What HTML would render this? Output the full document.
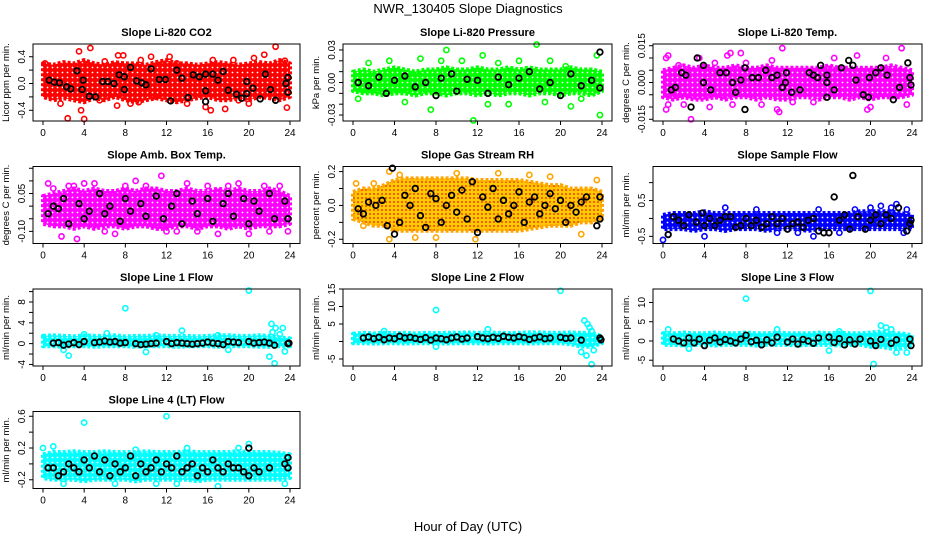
<!DOCTYPE html>
<html><head><meta charset="utf-8"><style>
body{margin:0;background:#fff;}
svg{display:block;font-family:"Liberation Sans",sans-serif;}
</style></head><body>
<svg id="chart" width="936" height="540" viewBox="0 0 936 540">
<defs>
<pattern id="rhpat" width="4" height="4" patternUnits="userSpaceOnUse"><rect width="4" height="4" fill="#ffc800"/><circle cx="2" cy="2" r="0.9" fill="#e02000"/></pattern>
</defs>
<text x="468" y="13" text-anchor="middle" font-size="13">NWR_130405  Slope Diagnostics</text>
<text x="468" y="531" text-anchor="middle" font-size="13">Hour of Day (UTC)</text>
</svg>
<script>
const xTicks=[0,4,8,12,16,20,24];
const hoursBand=[0,1,2,3,4,5,6,7,8,9,10,11,12,13,14,15,16,17,18,19,20,21,22,23,24];
// CO2
const co2Lo=[-0.2,-0.25,-0.22,-0.25,-0.28,-0.22,-0.25,-0.2,-0.25,-0.28,-0.25,-0.22,-0.25,-0.28,-0.25,-0.22,-0.2,-0.25,-0.25,-0.22,-0.25,-0.2,-0.22,-0.25,-0.2];
const co2Hi=[0.3,0.28,0.32,0.3,0.35,0.3,0.28,0.32,0.3,0.3,0.28,0.32,0.35,0.3,0.3,0.28,0.3,0.32,0.3,0.28,0.3,0.32,0.3,0.35,0.3];
const co2Pts=[[2.4,-0.52],[4,-0.53],[3.7,-0.4],[1.7,-0.3],[3.5,0.48],[4.6,0.53],[7.3,0.42],[7.8,0.42],[9.5,0.35],[12.3,0.4],[16.5,0.35],[18.5,0.35],[21.5,0.43],[22.6,0.55],[23.7,-0.36],[16.3,-0.4],[17.7,-0.38],[20,-0.3],[7.2,-0.33],[14,-0.3],[0.2,0.3],[10.5,0.4],[13,0.3],[6,0.33],[19,-0.25],[11,-0.2],[15.8,-0.35],[5.5,-0.25],[8.5,-0.3],[9.3,-0.28],[20.5,0.38],[23.5,0.34]];
const co2Blk=[[0.6,0.05],[1.1,0.02],[1.6,0.01],[2.3,-0.05],[2.7,-0.08],[3.3,0.19],[3.9,0.05],[3.8,-0.09],[4.5,-0.19],[5.1,-0.2],[5.8,0.03],[6.3,0.03],[6.9,0.0],[7.4,0.13],[7.9,0.1],[7.9,-0.09],[8.5,0.24],[9.1,0.04],[9.6,0.01],[10,-0.02],[10.5,0.22],[11.3,0.06],[11.9,0.06],[12.4,-0.26],[13,0.2],[13.5,0.08],[14.1,-0.21],[14.6,0.13],[15.2,0.1],[15.8,0.14],[15.8,-0.11],[15.8,-0.27],[16.5,0.14],[17,0.05],[17.5,0.18],[18,-0.1],[18.8,-0.16],[19.3,-0.22],[19.8,0.03],[19.8,-0.15],[20.4,-0.07],[21.1,-0.23],[21.6,0.14],[22.1,-0.09],[22.6,-0.25],[23.6,0.0],[23.8,0.09],[23.8,-0.13]];
// Pressure
const prLo=[-0.008,-0.01,-0.01,-0.012,-0.01,-0.01,-0.012,-0.01,-0.01,-0.012,-0.01,-0.01,-0.012,-0.01,-0.012,-0.01,-0.01,-0.012,-0.01,-0.01,-0.012,-0.01,-0.01,-0.012,-0.008];
const prHi=[0.01,0.012,0.01,0.012,0.014,0.012,0.01,0.012,0.012,0.014,0.012,0.012,0.014,0.012,0.012,0.014,0.012,0.014,0.012,0.012,0.012,0.014,0.012,0.012,0.01];
const prPts=[[17.7,0.035],[11.6,-0.035],[9,0.03],[12.5,0.025],[3.5,0.02],[19,0.02],[23.5,0.025],[7.5,-0.025],[15,-0.02],[21,-0.022],[1.5,0.018],[5,-0.018],[13,-0.02],[23.8,-0.03],[0.5,-0.015],[10.5,0.02],[16,0.02],[20.5,0.015],[22,-0.015],[6.5,0.022],[8.5,0.02],[14,0.018],[18.5,-0.018]];
const prBlk=[[0.5,0.0],[1.5,-0.003],[2.5,0.005],[3.2,-0.01],[4,0.002],[5,0.006],[6,-0.004],[7,0.0],[8,-0.012],[8.5,0.004],[9.5,0.008],[10,-0.008],[11,0.003],[12,0.002],[13,-0.01],[14,0.005],[15,-0.002],[16,0.004],[17,0.01],[18,-0.006],[19,0.0],[20,-0.012],[21,0.008],[22,-0.003],[23,0.002],[23.8,0.028],[23.8,-0.005]];
// Li-820 Temp
const tLo=[-0.006,-0.007,-0.006,-0.007,-0.007,-0.006,-0.007,-0.006,-0.006,-0.007,-0.006,-0.007,-0.007,-0.006,-0.006,-0.007,-0.006,-0.006,-0.007,-0.006,-0.007,-0.006,-0.006,-0.006,-0.005];
const tHi=[0.005,0.006,0.007,0.006,0.007,0.006,0.006,0.007,0.006,0.006,0.007,0.006,0.006,0.006,0.006,0.006,0.007,0.006,0.006,0.006,0.006,0.006,0.007,0.006,0.005];
const tPts=[[0.3,0.010],[0.5,0.011],[0.3,-0.011],[0.5,-0.009],[2.7,-0.015],[3.5,0.010],[5,0.008],[6.2,0.011],[6.5,0.012],[7.5,0.012],[11.5,0.014],[11.2,-0.012],[9.5,-0.009],[1.5,0.007],[2,-0.009],[12.5,-0.008],[16.5,0.010],[18.7,0.011],[21.5,0.010],[23,0.014],[19.7,-0.011],[20,-0.010],[23.5,-0.009],[14.5,-0.008],[10.5,0.009],[8,0.008],[4.5,-0.010],[6.7,-0.009],[11,-0.011]];
const tBlk=[[0.8,-0.003],[1.2,-0.002],[1.8,0.004],[2.2,0.003],[2.7,-0.010],[3.3,0.010],[3.9,0.007],[3.9,0.000],[4.6,-0.003],[5.5,0.004],[6.1,0.004],[6.7,0.000],[7,-0.004],[7.5,0.001],[7.9,0.006],[7.9,-0.011],[8.6,0.002],[9.2,0.002],[9.9,0.005],[10.5,0.002],[11,0.003],[11.5,-0.002],[11.8,0.000],[11.9,0.004],[12.4,-0.004],[13.2,-0.003],[14.1,0.004],[14.5,0.003],[14.9,0.002],[15.2,0.007],[15.8,0.003],[15.8,0.000],[15.8,-0.006],[16.5,-0.003],[17.2,0.006],[17.9,0.009],[18.3,0.007],[18.6,0.001],[19.3,-0.005],[19.8,-0.006],[19.9,0.002],[20.5,0.004],[21,0.006],[21.6,0.003],[22.2,-0.007],[22.8,-0.002],[23.6,0.008],[23.8,0.002],[23.9,-0.001]];
// Amb box temp
const abLo=[-0.07,-0.08,-0.08,-0.09,-0.08,-0.09,-0.08,-0.08,-0.09,-0.08,-0.08,-0.09,-0.09,-0.08,-0.08,-0.09,-0.08,-0.08,-0.09,-0.08,-0.09,-0.08,-0.08,-0.08,-0.07];
const abHi=[0.04,0.05,0.06,0.07,0.06,0.07,0.06,0.06,0.07,0.06,0.07,0.07,0.06,0.06,0.07,0.06,0.06,0.07,0.06,0.07,0.06,0.06,0.07,0.06,0.04];
const abPts=[[0.5,0.09],[1.8,-0.12],[3,0.08],[5,0.09],[6,-0.1],[9,0.1],[10,0.08],[11.5,0.12],[12,-0.1],[14,0.09],[16,0.08],[17,-0.11],[18,0.08],[19,0.09],[21.5,0.08],[23,0.08],[22,-0.1],[13,-0.1],[7,-0.11],[4,0.09],[20,-0.11],[8,0.08],[15,-0.1],[2.5,0.08],[23.8,-0.1],[1,0.07],[3.3,-0.13]];
const abBlk=[[0.5,-0.03],[1,0.0],[1.5,-0.01],[2,0.03],[2.5,-0.07],[3.5,0.01],[4,-0.05],[4.5,-0.02],[5.5,0.05],[6,-0.03],[6.5,0.0],[7.5,-0.06],[8,0.03],[8.5,-0.02],[9.5,0.01],[10,-0.04],[11,0.04],[11.7,-0.05],[12.5,0.0],[13,0.05],[13.5,-0.07],[14.5,0.02],[15,-0.03],[16,0.03],[16.5,-0.06],[17.5,0.01],[18,0.05],[18.5,-0.04],[19.5,0.03],[20,-0.07],[20.5,0.02],[21,-0.02],[22,0.05],[22.5,-0.05],[23.5,0.02],[23.8,-0.05]];
// Gas stream RH
const rhLo=[-0.08,-0.1,-0.12,-0.12,-0.15,-0.15,-0.15,-0.15,-0.15,-0.15,-0.15,-0.15,-0.15,-0.15,-0.15,-0.15,-0.15,-0.14,-0.13,-0.12,-0.12,-0.12,-0.1,-0.1,-0.08];
const rhHi=[0.08,0.1,0.1,0.12,0.15,0.16,0.16,0.16,0.16,0.16,0.16,0.16,0.15,0.15,0.15,0.15,0.15,0.14,0.13,0.12,0.12,0.1,0.1,0.1,0.08];
const rhPts=[[3.5,0.2],[4.5,0.18],[11.8,-0.2],[6,-0.19],[17,0.18],[19,0.17],[23.5,0.15],[2,0.13],[1,-0.12],[8,-0.19],[14,0.19],[22,-0.17],[10,0.19],[3.5,-0.2],[0.3,0.13]];
const rhBlk=[[0.5,-0.02],[1,-0.05],[1.5,0.02],[2.2,0.0],[2.8,0.03],[3.3,-0.12],[3.8,0.22],[4,-0.17],[4.5,-0.1],[5,0.06],[5.5,0.0],[6,0.1],[6.5,-0.06],[7,-0.13],[7.5,0.07],[8,0.04],[8.5,-0.1],[9,0.0],[9.5,0.06],[10,-0.04],[10.5,0.09],[11,-0.08],[11.5,0.14],[12,-0.16],[12.5,0.05],[13,-0.01],[13.5,0.1],[14,-0.08],[14.5,0.03],[15,-0.05],[15.5,0.0],[16,0.08],[16.5,-0.1],[17,0.02],[17.5,0.05],[18,-0.05],[18.5,0.0],[19,0.07],[19.5,-0.02],[20,0.03],[20.5,-0.1],[21,0.0],[21.5,-0.04],[22,0.02],[22.5,0.05],[23.5,-0.12],[23.8,0.05],[23.8,-0.08]];
// Sample flow
const sfLo=[-0.3,-0.3,-0.3,-0.35,-0.3,-0.3,-0.35,-0.3,-0.3,-0.3,-0.35,-0.3,-0.3,-0.3,-0.35,-0.3,-0.3,-0.3,-0.3,-0.3,-0.3,-0.3,-0.3,-0.3,-0.3];
const sfHi=[0.1,0.15,0.15,0.15,0.2,0.15,0.15,0.15,0.15,0.15,0.15,0.15,0.15,0.15,0.15,0.15,0.15,0.15,0.15,0.2,0.2,0.2,0.2,0.15,0.1];
const sfPts=[[0,-0.6],[0.5,-0.45],[4,-0.5],[18.5,0.25],[21,0.35],[20,0.3],[22,0.3],[23.5,0.25],[11,-0.4],[15,0.25],[6,0.3],[13,-0.4],[17,-0.4],[9,0.25],[14.5,-0.5],[22.5,0.4],[23.2,-0.4]];
const sfBlk=[[0.5,-0.45],[1,0.05],[1.5,-0.05],[2,-0.2],[2.5,0.1],[3.2,-0.1],[3.8,0.15],[4,-0.2],[4.5,0.0],[5,-0.2],[5.5,-0.05],[6,0.05],[6.5,0.05],[7,-0.25],[7.5,-0.2],[8,0.0],[8.5,-0.2],[9,-0.05],[9.5,-0.25],[10,-0.15],[10.5,0.05],[11,-0.15],[11.5,0.0],[12,-0.3],[12.5,-0.15],[13,-0.1],[13.5,-0.25],[14,-0.05],[14.5,0.0],[15,-0.35],[15.5,-0.4],[16,-0.4],[16.5,0.6],[17,-0.05],[17.5,0.1],[18,-0.3],[18.3,1.2],[18.8,0.05],[19.5,-0.3],[20,-0.05],[20.5,0.1],[21,-0.15],[21.5,0.1],[22,0.0],[22.7,0.3],[23.5,-0.35],[23.8,-0.15],[23.9,-0.05]];
// Line 1
const l1Lo=[-0.5,-0.5,-0.6,-0.5,-0.5,-0.6,-0.5,-0.5,-0.5,-0.6,-0.5,-0.5,-0.5,-0.6,-0.5,-0.5,-0.5,-0.6,-0.5,-0.5,-0.5,-0.6,-0.6,-0.5,-0.5];
const l1Hi=[1.5,1.6,1.5,1.4,1.6,1.5,1.5,1.6,1.4,1.5,1.5,1.6,1.5,1.5,1.5,1.4,1.5,1.6,1.6,1.5,1.5,1.6,1.5,1.2,1.0];
const l1Pts=[[8,6.8],[20,10.2],[22.2,3.8],[22.6,3],[22.3,2.2],[22,-2.5],[22.5,-3.8],[23.3,3],[23.5,-1.5],[2.5,-2.3],[6.2,2],[13.5,2.5],[4,1.8],[2,-1.2],[10,-1.6],[11,1.6],[17,1.6],[18,-1.2],[23,1.8]];
const l1Blk=[[1,0.1],[1.5,0.2],[2,-0.3],[2.5,-0.1],[3,0.2],[3.5,-0.2],[4,0.4],[5,0.2],[5.5,0.3],[6,0.5],[6.5,0.3],[7,0.4],[7.5,0.1],[8,0.2],[9,0.0],[9.5,-0.2],[10,-0.1],[10.5,0.0],[11,0.1],[12,0.4],[12.5,0.0],[13,0.2],[13.5,0.1],[14,0.0],[14.5,-0.1],[15,0.0],[15.5,0.1],[16,0.3],[16.5,0.1],[17,0.0],[17.5,-0.2],[18,0.4],[18.5,0.3],[19,0.2],[20,0.4],[20.5,0.1],[21,0.2],[21.5,0.3],[22,0.1],[22.5,-0.3],[23.8,0.0],[23.9,0.1]];
// Line 2
const l2Lo=[-0.5,-0.5,-0.6,-0.5,-0.5,-0.6,-0.5,-0.5,-0.5,-0.6,-0.5,-0.5,-0.5,-0.6,-0.5,-0.5,-0.5,-0.6,-0.5,-0.5,-0.5,-0.8,-1.5,-1.5,-0.5];
const l2Hi=[2.2,2.5,2.3,2.5,2.4,2.5,2.3,2.5,2.4,2.5,2.5,2.6,2.5,2.5,2.5,2.4,2.5,2.6,2.6,2.5,2.5,2.6,2.5,2.5,1.5];
const l2Pts=[[8,9],[20,14.5],[22.3,6],[22.6,5],[23,3],[22.5,-4],[23,-6.5],[22,-3],[3,3],[8,-1.5],[13,3.5],[23.2,-2.5],[22.8,4]];
const l2Blk=[[1,1.0],[1.5,1.3],[2,0.8],[2.5,1.2],[3,0.5],[3.5,1.0],[4,0.8],[4.5,1.5],[5,1.0],[5.5,1.2],[6,0.9],[6.5,0.6],[7,1.1],[7.5,0.4],[8,1.0],[8.5,0.8],[9,0.5],[9.5,1.0],[10,1.3],[10.5,0.7],[11,1.0],[12,1.4],[12.5,1.0],[13,0.8],[13.5,1.2],[14,0.9],[14.5,1.5],[15,1.2],[15.5,1.0],[16,1.4],[16.5,1.1],[17,0.6],[17.5,1.0],[18,1.3],[18.5,0.8],[19,1.0],[20,1.2],[20.5,0.9],[21,1.0],[22,0.4],[23.8,1.0],[23.9,0.5]];
// Line 3
const l3Lo=[-1,-1,-1.2,-1,-1,-1.2,-1,-1,-1,-1.2,-1,-1,-1,-1.2,-1,-1,-1,-1.2,-1,-1,-1.5,-1.5,-2,-2,-1];
const l3Hi=[2,2,2.2,2,2,2.2,2,2,2.2,2,2,2.2,2,2,2,2.2,2,2.2,2,2,2.2,2.5,2,2,1.5];
const l3Pts=[[8,11],[20,13],[20.3,-6],[21,4],[22,3],[22.5,-3],[0.5,3],[2.5,-2],[11,3],[16,-2.5],[17,2.5],[23.5,-3],[21.5,3.5]];
const l3Blk=[[1,0.5],[1.5,0.0],[2,-0.5],[2.5,0.8],[3,-0.5],[3.5,0.5],[4,-1.2],[4.5,0.2],[5,0.8],[5.5,-0.3],[6,0.4],[6.5,0.0],[7,-0.5],[7.5,0.5],[8,1.5],[8.5,-0.2],[9,0.2],[9.5,-1.0],[10,0.3],[10.5,-0.5],[11,1.0],[12,-0.3],[12.5,0.5],[13,-0.8],[13.5,0.4],[14,0.0],[14.5,-0.6],[15,0.8],[16,1.0],[16.5,-0.4],[17,0.6],[17.5,-1.0],[18,0.3],[18.5,-0.8],[19,0.5],[20,0.0],[20.5,-1.2],[21,0.4],[22,-0.6],[22.5,0.3],[23.8,0.5],[23.9,-1.2]];
// Line 4
const l4Lo=[-0.18,-0.2,-0.2,-0.2,-0.22,-0.2,-0.2,-0.2,-0.2,-0.22,-0.2,-0.2,-0.2,-0.2,-0.2,-0.22,-0.2,-0.2,-0.2,-0.2,-0.2,-0.2,-0.2,-0.2,-0.18];
const l4Hi=[0.12,0.15,0.15,0.16,0.15,0.15,0.16,0.15,0.15,0.15,0.16,0.15,0.15,0.15,0.16,0.15,0.15,0.15,0.15,0.16,0.15,0.15,0.15,0.14,0.12];
const l4Pts=[[4,0.52],[12,0.6],[0,0.2],[2,-0.25],[7,-0.25],[17,-0.28],[20,0.25],[23.5,-0.25],[11,-0.25],[9,0.18],[14,0.2],[1,0.22],[19,0.2],[13,-0.25]];
const l4Blk=[[0.5,-0.05],[1,-0.05],[1.5,-0.15],[2,-0.1],[2.5,0.0],[3,-0.05],[3.5,-0.1],[4,0.05],[4.5,-0.05],[5,0.1],[5.5,-0.1],[6,0.05],[6.5,-0.15],[7,0.0],[7.5,-0.1],[8,-0.05],[8.5,0.1],[9,-0.15],[9.5,0.0],[10,-0.1],[10.5,-0.05],[11,0.05],[11.5,-0.1],[12,0.0],[12.5,-0.05],[13,0.1],[13.5,-0.1],[14,-0.05],[14.5,0.0],[15,-0.15],[15.5,-0.05],[16,-0.1],[16.5,0.05],[17,-0.05],[17.5,-0.1],[18,0.0],[18.5,-0.05],[19,-0.05],[19.5,-0.1],[20,-0.15],[20,0.2],[20.5,-0.05],[21,-0.1],[22,-0.05],[23.5,0.0],[23.8,-0.05],[23.8,0.08]];

const colX=[[33,300],[343,612],[653,922]];
const panels=[
 {t:'Slope Li-820 CO2',yl:'Licor ppm per min.',c:0,r:0,min:-0.56,max:0.59,ticks:[-0.4,-0.2,0,0.2,0.4],labs:['-0.4','0.0','0.4'],lv:[-0.4,0,0.4],col:'#ff0000',lo:co2Lo,hi:co2Hi,p:co2Pts,b:co2Blk},
 {t:'Slope Li-820 Pressure',yl:'kPa per min.',c:1,r:0,min:-0.0355,max:0.0355,ticks:[-0.03,-0.02,-0.01,0,0.01,0.02,0.03],labs:['-0.03','0.00','0.03'],lv:[-0.03,0,0.03],col:'#00ff00',lo:prLo,hi:prHi,p:prPts,b:prBlk},
 {t:'Slope Li-820 Temp.',yl:'degrees C per min.',c:2,r:0,min:-0.0157,max:0.0157,ticks:[-0.015,-0.01,-0.005,0,0.005,0.01,0.015],labs:['-0.015','0.000','0.015'],lv:[-0.015,0,0.015],col:'#ff00ff',lo:tLo,hi:tHi,p:tPts,b:tBlk},
 {t:'Slope Amb. Box Temp.',yl:'degrees C per min.',c:0,r:1,min:-0.148,max:0.157,ticks:[-0.1,-0.05,0,0.05,0.1,0.15],labs:['-0.10','0.05'],lv:[-0.1,0.05],col:'#ff00ff',lo:abLo,hi:abHi,p:abPts,b:abBlk},
 {t:'Slope Gas Stream RH',yl:'percent per min.',c:1,r:1,min:-0.225,max:0.23,ticks:[-0.2,-0.1,0,0.1,0.2],labs:['-0.2','0.0','0.2'],lv:[-0.2,0,0.2],col:'#ffa500',lo:rhLo,hi:rhHi,p:rhPts,b:rhBlk,pat:true},
 {t:'Slope Sample Flow',yl:'ml/min per min.',c:2,r:1,min:-0.7,max:1.45,ticks:[-0.5,0,0.5,1.0],labs:['-0.5','0.5'],lv:[-0.5,0.5],col:'#0000ff',lo:sfLo,hi:sfHi,p:sfPts,b:sfBlk},
 {t:'Slope Line 1 Flow',yl:'ml/min per min.',c:0,r:2,min:-4.3,max:10.5,ticks:[-4,-2,0,2,4,6,8,10],labs:['-4','0','4','8'],lv:[-4,0,4,8],col:'#00ffff',lo:l1Lo,hi:l1Hi,p:l1Pts,b:l1Blk},
 {t:'Slope Line 2 Flow',yl:'ml/min per min.',c:1,r:2,min:-7,max:15,ticks:[-5,0,5,10,15],labs:['-5','5','10','15'],lv:[-5,5,10,15],col:'#00ffff',lo:l2Lo,hi:l2Hi,p:l2Pts,b:l2Blk},
 {t:'Slope Line 3 Flow',yl:'ml/min per min.',c:2,r:2,min:-6.5,max:13.5,ticks:[-5,0,5,10],labs:['-5','0','5','10'],lv:[-5,0,5,10],col:'#00ffff',lo:l3Lo,hi:l3Hi,p:l3Pts,b:l3Blk},
 {t:'Slope Line 4 (LT) Flow',yl:'ml/min per min.',c:0,r:3,min:-0.31,max:0.66,ticks:[-0.2,0,0.2,0.4,0.6],labs:['-0.2','0.2','0.6'],lv:[-0.2,0.2,0.6],col:'#00ffff',lo:l4Lo,hi:l4Hi,p:l4Pts,b:l4Blk}
];
const NS='http://www.w3.org/2000/svg';
const svg=document.getElementById('chart');
const defs=svg.querySelector('defs');
function mk(tag,attrs,parent){const e=document.createElementNS(NS,tag);for(const k in attrs)e.setAttribute(k,attrs[k]);parent.appendChild(e);return e;}
panels.forEach((P,i)=>{
 if(!P.pat){
  const pt=mk('pattern',{id:'pat'+i,width:'5',height:'5',patternUnits:'userSpaceOnUse'},defs);
  mk('rect',{width:5,height:5,fill:P.col},pt);
  mk('circle',{cx:2.5,cy:2.5,r:0.9,fill:'#fff'},pt);
 }
 const x0=colX[P.c][0],x1=colX[P.c][1];
 const y0=44+122.5*P.r,y1=y0+77;
 const sx=h=>x0+10+(x1-x0-20)*h/24;
 const sy=v=>y1-(v-P.min)/(P.max-P.min)*(y1-y0);
 const g=mk('g',{},svg);
 
 
 const tt=mk('text',{x:(x0+x1)/2,y:y0-8,'text-anchor':'middle','font-size':'11','font-weight':'bold'},g);
 tt.textContent=P.t;
 
 
 let d='';
 hoursBand.forEach((h,k)=>{d+=(k?'L':'M')+sx(h)+','+sy(P.hi[k]);});
 for(let k=hoursBand.length-1;k>=0;k--)d+='L'+sx(hoursBand[k])+','+sy(P.lo[k]);
 const band=mk('path',{d:d+'Z',fill:P.pat?'url(#rhpat)':'url(#pat'+i+')',stroke:P.col,'stroke-width':'4','stroke-dasharray':'3 2','stroke-linejoin':'round'},g);
 
 
 P.p.forEach(pt=>{
  const c=mk('circle',{cx:sx(pt[0]),cy:sy(pt[1]),r:2.6,fill:'none',stroke:P.pat?'#ffa500':P.col,'stroke-width':'1.6'},g);
  
  
 });
 P.b.forEach(pt=>{
  const c=mk('circle',{cx:sx(pt[0]),cy:sy(pt[1]),r:2.8,fill:'none',stroke:'#000','stroke-width':'1.8'},g);
  
  
 });
 const box=mk('rect',{x:x0,y:y0,width:x1-x0,height:y1-y0,fill:'none',stroke:'#000','stroke-width':'1'},g);
 
 
 xTicks.forEach(h=>{
  mk('line',{x1:sx(h),x2:sx(h),y1:y1,y2:y1+4,stroke:'#000'},g);
  const t=mk('text',{x:sx(h),y:y1+15,'text-anchor':'middle','font-size':'10'},g);
  t.textContent=h;
  
  
 });
 P.ticks.forEach(v=>{mk('line',{x1:x0-4,x2:x0,y1:sy(v),y2:sy(v),stroke:'#000'},g);});
 P.lv.forEach((v,k)=>{
  const t=mk('text',{transform:'translate('+(x0-8)+','+sy(v)+') rotate(-90)','text-anchor':'middle','font-size':'10'},g);
  t.textContent=P.labs[k];
  
  
 });
 const yt=mk('text',{transform:'translate('+(x0-24)+','+((y0+y1)/2)+') rotate(-90)','text-anchor':'middle','font-size':'9.5'},g);
 yt.textContent=P.yl;
 
 
});
</script>
</body></html>
